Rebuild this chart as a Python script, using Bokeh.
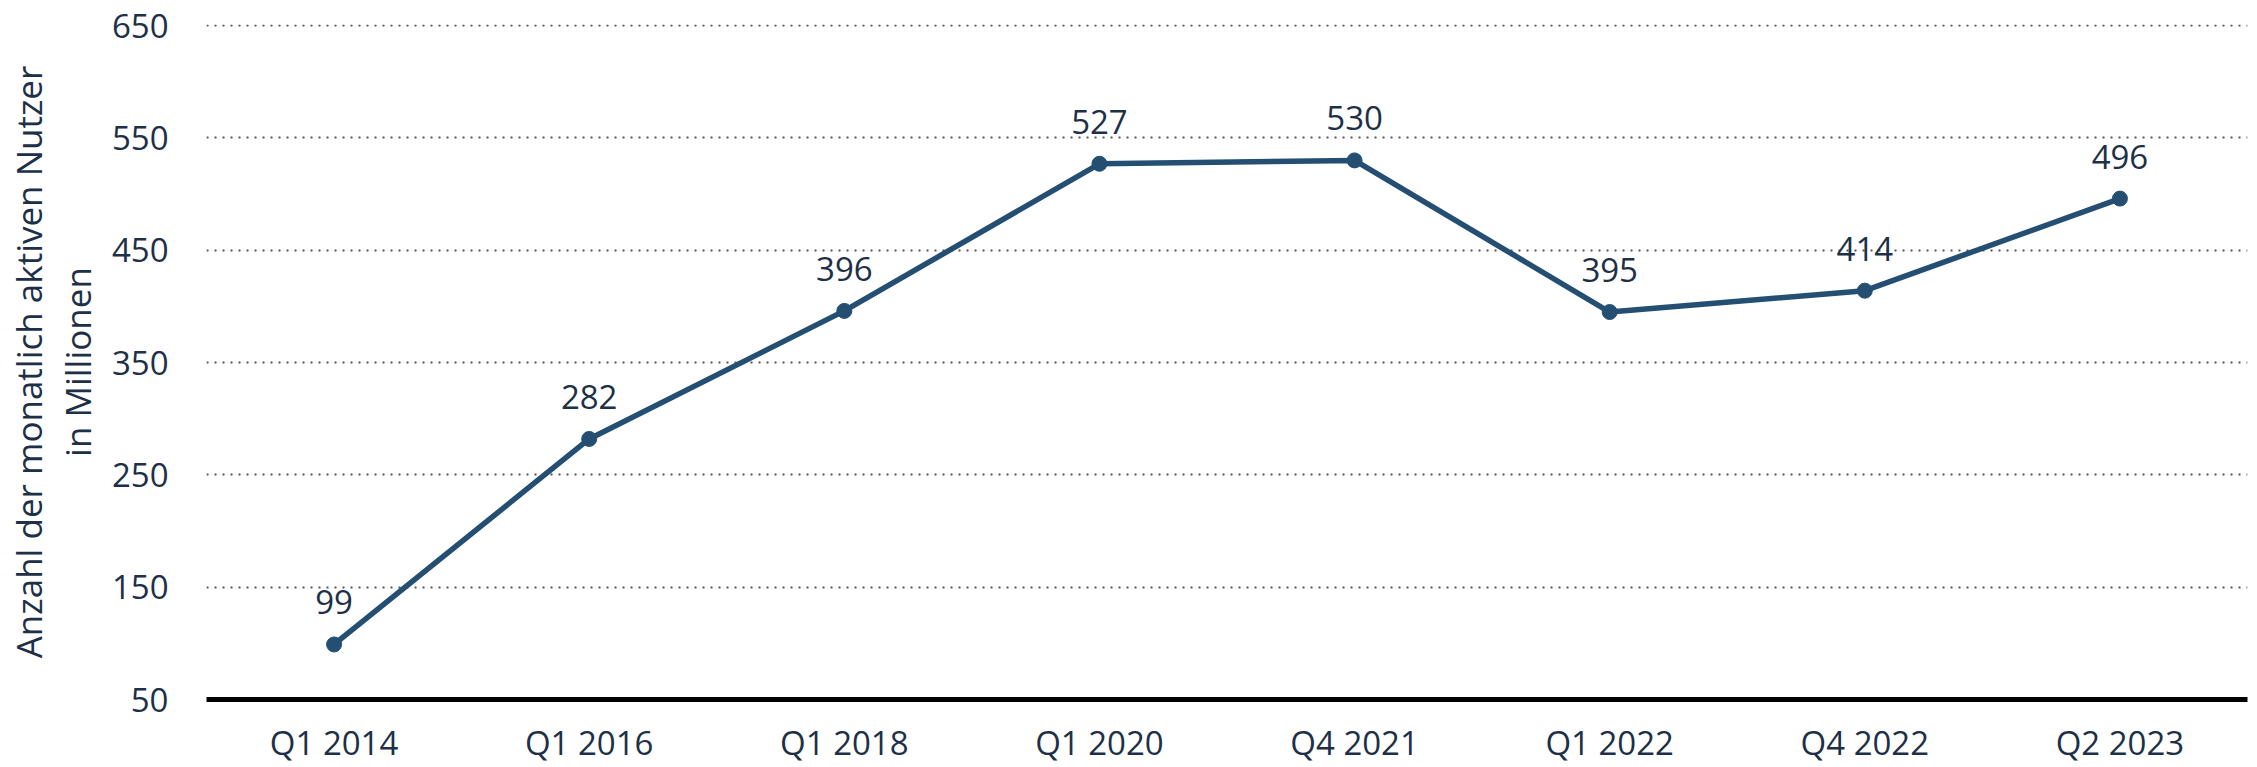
from bokeh.plotting import figure
from bokeh.models import ColumnDataSource, FixedTicker, FactorRange
from bokeh.embed import file_html
from bokeh.resources import INLINE
from bokeh.core.properties import value

categories = ["Q1 2014", "Q1 2016", "Q1 2018", "Q1 2020", "Q4 2021", "Q1 2022", "Q4 2022", "Q2 2023"]
users = [99, 282, 396, 527, 530, 395, 414, 496]
y_ticks = [50, 150, 250, 350, 450, 550, 650]

LINE = "#244f73"
TEXT = "#1d3047"
FONT = "Open Sans"

src = ColumnDataSource(dict(cat=categories, val=users, lbl=[str(v) for v in users]))

p = figure(x_range=FactorRange(*categories, range_padding=0), y_range=(50, 651),
           width=2257, height=767, output_backend="svg", toolbar_location=None,
           min_border_left=206, min_border_right=10, min_border_top=24, min_border_bottom=60)
p.outline_line_color = None
p.background_fill_color = "white"
p.border_fill_color = "white"

p.line("cat", "val", source=src, line_color=LINE, line_width=5.5)
p.scatter("cat", "val", source=src, size=15, fill_color=LINE, line_color=LINE)
p.text("cat", "val", text="lbl", source=src, y_offset=-42, text_align="center",
       text_baseline="middle", text_font=value(FONT), text_font_size="33px", text_color=TEXT)

p.xgrid.grid_line_color = None
p.ygrid.ticker = FixedTicker(ticks=y_ticks)
p.ygrid.grid_line_color = "#555555"
p.ygrid.grid_line_width = 2
p.ygrid.grid_line_dash = "2 6"

yax = p.yaxis[0]
yax.ticker = FixedTicker(ticks=y_ticks)
yax.axis_line_color = None
yax.major_tick_line_color = None
yax.minor_tick_line_color = None
yax.major_tick_out = 0
yax.major_tick_in = 0
yax.major_label_standoff = 38
yax.major_label_text_font = FONT
yax.major_label_text_font_size = "33px"
yax.major_label_text_color = TEXT
yax.axis_label = "Anzahl der monatlich aktiven Nutzer\nin Millionen"
yax.axis_label_text_font = FONT
yax.axis_label_text_font_size = "35px"
yax.axis_label_text_font_style = "normal"
yax.axis_label_text_color = TEXT
yax.axis_label_text_line_height = 1.05
yax.axis_label_standoff = 8

xax = p.xaxis[0]
xax.axis_line_color = "black"
xax.axis_line_width = 5
xax.major_tick_line_color = None
xax.minor_tick_line_color = None
xax.major_tick_out = 0
xax.major_tick_in = 0
xax.major_label_standoff = 20
xax.axis_label_standoff = 0
xax.major_label_text_font = FONT
xax.major_label_text_font_size = "33px"
xax.major_label_text_color = TEXT

open("out.html", "w").write(file_html(p, INLINE))
